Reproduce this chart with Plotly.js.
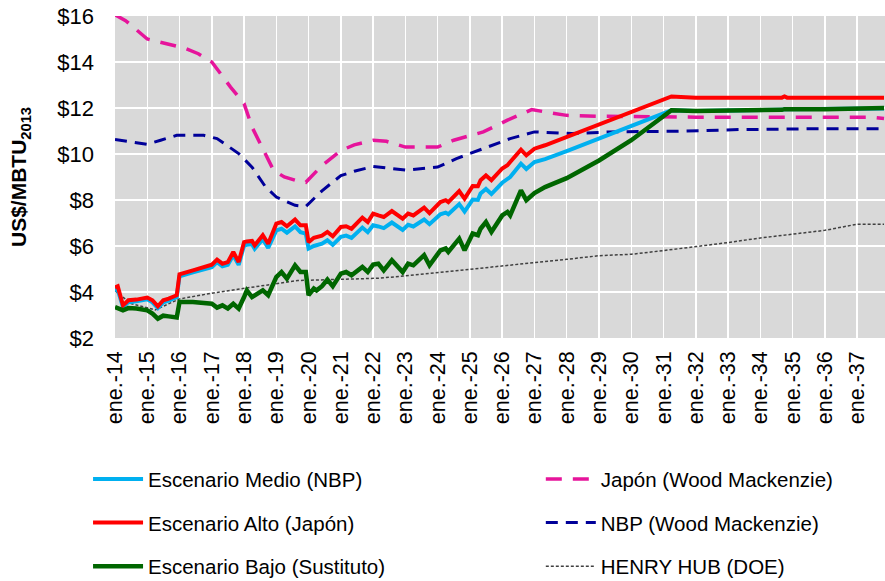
<!DOCTYPE html>
<html>
<head>
<meta charset="utf-8">
<script src="https://cdn.plot.ly/plotly-3.0.1.min.js"></script>
<style>html,body{margin:0;padding:0;background:#fff;}#chart{width:885px;height:581px;}</style>
</head>
<body>
<div id="chart"></div>
<script>
// Scenario series (shared dates)
var scenDates = ['2014-01-01','2014-02-01','2014-04-01','2014-06-01','2014-09-01','2015-01-01','2015-03-01','2015-05-01','2015-07-01','2015-09-01','2015-12-01',
  '2016-01-01','2016-06-01','2017-01-01','2017-03-01','2017-05-01','2017-07-01','2017-09-01','2017-11-01',
  '2018-01-01','2018-02-01','2018-04-01','2018-05-01','2018-08-01','2018-10-01',
  '2019-01-01','2019-03-01','2019-05-01','2019-08-01','2019-10-01','2019-12-01',
  '2020-01-01','2020-03-01','2020-04-01','2020-06-01','2020-08-01','2020-10-01',
  '2021-01-01','2021-03-01','2021-05-01','2021-09-01','2021-11-01',
  '2022-01-01','2022-03-01','2022-05-01','2022-08-01','2022-12-01',
  '2023-02-01','2023-04-01','2023-08-01','2023-10-01',
  '2024-02-01','2024-04-01','2024-05-01','2024-09-01','2024-11-01',
  '2025-02-01','2025-04-01','2025-05-01','2025-07-01','2025-09-01',
  '2026-01-01','2026-03-01','2026-04-01','2026-08-01','2026-10-01',
  '2027-01-01','2027-05-01','2028-01-01','2029-01-01','2030-01-01','2031-04-01',
  '2032-01-01','2033-01-01','2034-01-01','2034-09-01','2034-10-01','2034-11-01','2036-01-01','2037-11-01'];
var medio = [4.1,4.1,3.35,3.55,3.6,3.68,3.55,3.3,3.55,3.62,3.78,
  4.68,4.85,5.08,5.3,5.12,5.18,5.6,5.18,
  6.02,6.05,6.08,5.88,6.3,5.92,
  6.68,6.75,6.58,6.85,6.6,6.54,
  5.89,6.0,6.02,6.1,6.25,6.05,
  6.4,6.45,6.35,6.8,6.6,
  6.9,6.85,6.78,7.02,6.7,
  6.92,6.85,7.15,6.95,
  7.38,7.45,7.38,7.82,7.5,
  8.02,8.0,8.28,8.48,8.26,
  8.75,8.9,9.0,9.58,9.35,
  9.65,9.78,10.13,10.68,11.22,11.9,
  11.87,11.88,11.92,11.92,11.95,11.95,11.95,11.98];
var alto = [4.2,4.25,3.42,3.64,3.67,3.76,3.64,3.38,3.64,3.71,3.86,
  4.77,4.94,5.19,5.41,5.23,5.3,5.74,5.3,
  6.17,6.2,6.22,6.03,6.47,6.1,
  6.97,7.04,6.86,7.15,6.9,6.9,
  6.17,6.36,6.38,6.45,6.61,6.42,
  6.83,6.86,6.75,7.23,7.04,
  7.41,7.33,7.26,7.52,7.19,
  7.41,7.33,7.67,7.43,
  7.91,7.99,7.91,8.39,8.06,
  8.61,8.6,8.86,9.07,8.86,
  9.37,9.51,9.65,10.19,9.94,
  10.23,10.38,10.75,11.28,11.82,12.5,
  12.45,12.45,12.45,12.45,12.5,12.45,12.45,12.45];
var bajo = [3.35,3.3,3.2,3.3,3.28,3.2,3.06,2.84,2.97,2.94,2.89,
  3.56,3.56,3.49,3.32,3.42,3.28,3.49,3.28,
  3.78,4.07,3.78,3.86,4.07,3.86,
  4.65,4.87,4.58,5.16,4.87,4.87,
  3.86,4.15,4.07,4.25,4.54,4.25,
  4.8,4.87,4.73,5.09,4.87,
  5.19,5.23,4.94,5.38,4.87,
  5.23,5.16,5.6,5.16,
  5.81,5.89,5.74,6.32,5.81,
  6.54,6.47,6.75,7.04,6.61,
  7.33,7.48,7.33,8.42,7.99,
  8.3,8.56,8.95,9.72,10.6,11.9,
  11.87,11.88,11.92,11.92,11.95,11.95,11.95,12.0];

// Wood Mackenzie series
var japonDates = ['2014-01-01','2014-05-01','2015-01-01','2015-06-01','2015-10-01','2016-03-01','2016-08-01','2017-01-01','2017-08-01','2018-01-01','2018-04-01','2018-09-01','2018-12-01','2019-04-01','2019-08-01','2019-12-01','2020-06-01','2021-01-01','2021-06-01','2022-01-01','2022-06-01','2023-01-01','2024-01-01','2024-07-01','2025-06-01','2026-03-01','2026-12-01','2027-05-01','2028-01-01','2029-01-01','2030-01-01','2032-01-01','2037-06-01','2037-11-01'];
var japon = [16.05,15.8,15.0,14.87,14.73,14.6,14.36,14.0,12.91,12.19,11.17,10.02,9.29,9.0,8.86,8.77,9.5,10.15,10.4,10.6,10.55,10.3,10.3,10.6,10.96,11.47,11.93,11.83,11.68,11.64,11.62,11.6,11.6,11.54];
var nbpDates = ['2014-01-01','2015-01-01','2015-06-01','2015-12-01','2016-10-01','2017-03-01','2017-11-01','2018-04-01','2018-09-01','2019-01-01','2019-08-01','2019-12-01','2020-06-01','2021-01-01','2021-06-01','2022-01-01','2023-01-01','2024-01-01','2024-08-01','2025-06-01','2026-04-01','2027-01-01','2027-06-01','2028-03-01','2029-05-01','2031-06-01','2033-05-01','2035-10-01','2037-11-01'];
var nbp = [10.63,10.42,10.6,10.81,10.81,10.67,10.02,9.43,8.57,8.13,7.77,7.72,8.4,9.06,9.25,9.46,9.3,9.43,9.8,10.23,10.67,10.96,10.93,10.89,10.96,10.99,11.06,11.1,11.1];
var henryDates = ['2014-01-01','2014-07-01','2015-04-01','2016-01-01','2017-01-01','2018-01-01','2019-01-01','2019-09-01','2021-01-01','2022-03-01','2023-01-01','2024-01-01','2025-01-01','2026-01-01','2027-01-01','2028-01-01','2029-01-01','2030-01-01','2031-01-01','2032-01-01','2033-01-01','2034-01-01','2035-01-01','2036-01-01','2037-01-01','2037-11-01'];
var henry = [4.05,3.5,3.22,3.7,3.95,4.15,4.35,4.5,4.55,4.6,4.7,4.84,4.98,5.12,5.25,5.42,5.58,5.64,5.8,5.96,6.15,6.35,6.5,6.68,6.95,6.95];

var tickYears = [];
var tickLabels = [];
for (var yr = 2014; yr <= 2037; yr++) {
  tickYears.push(yr + '-01-01');
  tickLabels.push('ene.-' + String(yr).slice(2));
}
var yTicks = [2,4,6,8,10,12,14,16];
var yLabels = ['$2','$4','$6','$8','$10','$12','$14','$16'];

var F = 'Liberation Sans, Arial, sans-serif';
var traces = [
  {x: henryDates, y: henry, name: 'HENRY HUB (DOE)', mode: 'lines', line: {color: '#404040', width: 1.5, dash: '3px,2px'}, legend: 'legend2', legendgroup: 'h', legendrank: 3},
  {x: nbpDates, y: nbp, name: 'NBP (Wood Mackenzie)', mode: 'lines', line: {color: '#000099', width: 3, dash: '12px,8px'}, legend: 'legend2', legendgroup: 'n', legendrank: 2},
  {x: japonDates, y: japon, name: 'Japón (Wood Mackenzie)', mode: 'lines', line: {color: '#E6149B', width: 3.5, dash: '16px,11px'}, legend: 'legend2', legendgroup: 'j', legendrank: 1},
  {x: scenDates, y: medio, name: 'Escenario Medio (NBP)', mode: 'lines', line: {color: '#00B0F0', width: 4}, legend: 'legend', legendgroup: 'm', legendrank: 1},
  {x: scenDates, y: alto, name: 'Escenario Alto (Japón)', mode: 'lines', line: {color: '#FF0000', width: 4}, legend: 'legend', legendgroup: 'a', legendrank: 2},
  {x: scenDates, y: bajo, name: 'Escenario Bajo (Sustituto)', mode: 'lines', line: {color: '#006600', width: 4.5}, legend: 'legend', legendgroup: 'b', legendrank: 3}
];

var legendCommon = {
  orientation: 'v', traceorder: 'grouped', tracegroupgap: 14, itemwidth: 50,
  font: {family: F, size: 20.5, color: '#000'}, bgcolor: 'rgba(0,0,0,0)', yanchor: 'top'
};
var layout = {
  width: 885, height: 581,
  margin: {l: 115, r: 0, t: 16, b: 243, autoexpand: false},
  paper_bgcolor: '#ffffff', plot_bgcolor: '#d9d9d9',
  font: {family: F, size: 20, color: '#000'},
  showlegend: true,
  legend: Object.assign({}, legendCommon, {x: -0.035, y: -0.376}),
  legend2: Object.assign({}, legendCommon, {x: 0.553, y: -0.376}),
  xaxis: {
    type: 'date', range: ['2014-01-01', '2037-11-12'], automargin: false,
    tickmode: 'array', tickvals: tickYears, ticktext: tickLabels, tickangle: -90,
    showgrid: true, gridcolor: '#ffffff', gridwidth: 1.5, zeroline: false, showline: false,
    ticks: '', ticklabelstandoff: 8, tickfont: {family: F, size: 21.5, color: '#000'}
  },
  yaxis: {
    range: [2, 16], automargin: false, tickmode: 'array', tickvals: yTicks, ticktext: yLabels,
    showgrid: true, gridcolor: '#ffffff', gridwidth: 1.5, zeroline: false, showline: false,
    ticks: '', ticklabelstandoff: 20, tickfont: {family: F, size: 22, color: '#000'},
    title: {text: 'US$/MBTU<sub>2013</sub>', font: {family: F, size: 21, color: '#000', weight: 'bold'}, standoff: 24}
  }
};
Plotly.newPlot('chart', traces, layout, {displayModeBar: false, staticPlot: true});
</script>
</body>
</html>
